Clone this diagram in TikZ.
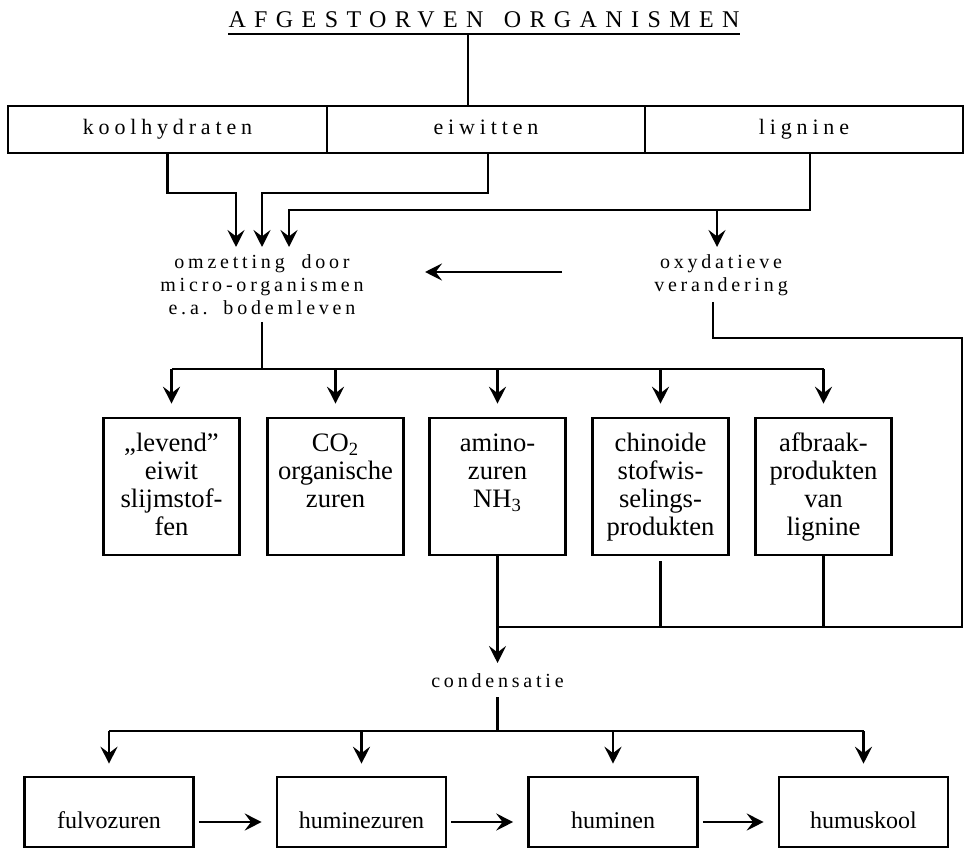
\documentclass[tikz,border=0pt]{standalone}
\usepackage{fontspec}
\setmainfont{Liberation Serif}
\newfontfamily\spcf[LetterSpace=19]{Liberation Serif}
\newfontfamily\rowf[LetterSpace=22]{Liberation Serif}
\newfontfamily\ttlf[LetterSpace=35]{Liberation Serif}
\usetikzlibrary{arrows.meta}
\newcommand{\fstrut}{\rule{0pt}{10pt}}
\tikzset{
 ln/.style={line width=1.2pt},
 arr/.style={line width=1.2pt,-{Stealth[length=8.5pt,width=8.5pt,inset=3.2pt]}},
 rowbox/.style={draw,line width=1.2pt,minimum height=23.5pt,inner sep=0pt,text height=7.5pt,text depth=2.5pt,font=\rowf\fontsize{11}{13}\selectfont},
 midbox/.style={draw,line width=1.3pt,minimum width=68pt,minimum height=68.5pt,inner sep=0pt},
 midtxt/.style={align=center,inner sep=0pt,anchor=north,font=\fontsize{13.3}{14}\selectfont},
 botbox/.style={draw,line width=1.3pt,minimum width=84.5pt,minimum height=35pt,inner sep=0pt},
 bottxt/.style={inner sep=0pt,anchor=base,font=\fontsize{12}{14}\selectfont},
 lbl/.style={align=center,inner sep=0pt,font=\spcf\fontsize{10}{11.5}\selectfont},
 ttlnode/.style={inner sep=0pt,font=\ttlf\fontsize{12}{14}\selectfont},
}
\begin{document}
\begin{tikzpicture}[x=0.5pt,y=-0.5pt]
\useasboundingbox (0,0) rectangle (967,849);
% title
\node[ttlnode] (title) at (484,20) {AFGESTORVEN\hspace{3pt} ORGANISMEN};
\coordinate (ul1) at (228,34);
\coordinate (ul2) at (740,34);
\draw[ln] (ul1) -- (ul2);
% top row
\node[rowbox,minimum width=159.5pt] (kh) at (167.5,129.5) {koolhydraten};
\node[rowbox,minimum width=159pt] (ew) at (486,129.5) {eiwitten};
\node[rowbox,minimum width=159pt] (lg) at (804,129.5) {lignine};
\coordinate (tj) at (468,34);
\draw[ln] (tj) -- (tj |- ew.north);
% labels
\node[lbl,anchor=north] (omz) at (262,254) {omzetting\hspace{4pt} door\\micro-organismen\\e.a.\hspace{2pt} bodemleven};
\node[lbl,anchor=north] (ox) at (721,254) {oxydatieve\\verandering};
% arrows into omzetting / oxydatieve
\coordinate (t1) at (236,247);
\coordinate (t2) at (262,247);
\coordinate (t3) at (289,247);
\coordinate (t4) at (717,247);
\coordinate (h1) at (236,193);
\coordinate (h2) at (262,193);
\coordinate (h3) at (289,210);
\coordinate (h4) at (717,210);
\draw[arr] (kh.south) |- (h1) -- (t1);
\draw[arr] ([xshift=1pt]ew.south) |- (h2) -- (t2);
\draw[arr] ([xshift=3pt]lg.south) |- (h3) -- (t3);
\draw[arr] (h4) -- (t4);
\coordinate (la1) at (562,272);
\coordinate (la2) at (425,272);
\draw[arr] (la1) -- (la2);
% middle boxes
\node[midbox] (b1) at (171.5,486.5) {};
\node[midbox] (b2) at (335.5,486.5) {};
\node[midbox] (b3) at (497.5,486.5) {};
\node[midbox] (b4) at (660.5,486.5) {};
\node[midbox] (b5) at (823.5,486.5) {};
\node[midtxt] at ([yshift=-7pt]b1.north) {\fstrut„levend”\\eiwit\\slijmstof-\\fen};
\node[midtxt] at ([yshift=-7pt]b2.north) {\fstrut CO\textsubscript{2}\\organische\\zuren};
\node[midtxt] at ([yshift=-7pt]b3.north) {\fstrut amino-\\zuren\\NH\textsubscript{3}};
\node[midtxt] at ([yshift=-7pt]b4.north) {\fstrut chinoide\\stofwis-\\selings-\\produkten};
\node[midtxt] at ([yshift=-7pt]b5.north) {\fstrut afbraak-\\produkten\\van\\lignine};
% distribution from omzetting
\coordinate (os) at (262,322);
\coordinate (hy) at (262,369);
\draw[ln] (os) -- (hy);
\draw[ln] (b1.north |- hy) -- (b5.north |- hy);
\foreach \b in {b1,b2,b3,b4,b5}{
  \draw[arr] (\b.north |- hy) -- ([yshift=6.5pt]\b.north);
}
% oxydatieve loop
\coordinate (o1) at (713,302);
\coordinate (o2) at (962,338);
\coordinate (o3) at (962,627);
\draw[ln] (o1) |- (o2) -- (o3) -- (b3.south |- o3);
\draw[ln] ([yshift=-2.5pt]b4.south) -- (b4.south |- o3);
\draw[ln] (b5.south) -- (b5.south |- o3);
% condensatie
\node[lbl,anchor=base] (cond) at (497.5,687) {condensatie};
\coordinate (c1) at (497.5,663);
\draw[arr] (b3.south) -- (c1);
\coordinate (c2) at (497.5,697);
\coordinate (cy) at (497.5,731);
\draw[ln] (c2) -- (cy);
% bottom boxes
\node[botbox] (d1) at (109,812) {};
\node[botbox] (d2) at (361.5,812) {};
\node[botbox] (d3) at (613,812) {};
\node[botbox] (d4) at (863.5,812) {};
\node[bottxt] at (109,828) {fulvozuren};
\node[bottxt] at (361.5,828) {huminezuren};
\node[bottxt] at (613,828) {huminen};
\node[bottxt] at (863.5,828) {humuskool};
\draw[ln] (d1.north |- cy) -- (d4.north |- cy);
\foreach \d in {d1,d2,d3,d4}{
  \draw[arr] (\d.north |- cy) -- ([yshift=6pt]\d.north);
}
\draw[arr] ([xshift=2pt,yshift=-5pt]d1.east) -- ([xshift=-7pt,yshift=-5pt]d2.west);
\draw[arr] ([xshift=2pt,yshift=-5pt]d2.east) -- ([xshift=-7pt,yshift=-5pt]d3.west);
\draw[arr] ([xshift=2pt,yshift=-5pt]d3.east) -- ([xshift=-7pt,yshift=-5pt]d4.west);
\end{tikzpicture}
\end{document}
